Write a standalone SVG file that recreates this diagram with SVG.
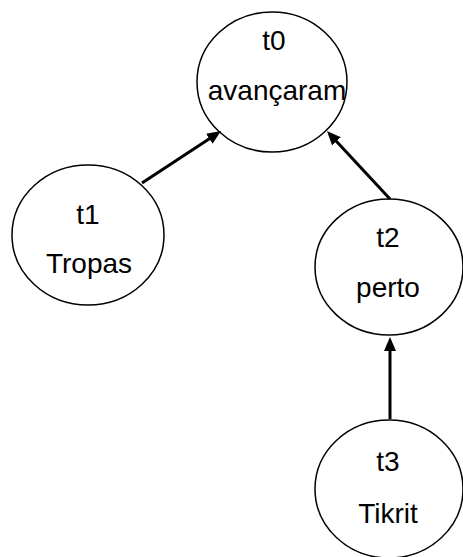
<svg xmlns="http://www.w3.org/2000/svg" width="463" height="557" viewBox="0 0 463 557">
<defs>
<style>
.node ellipse{fill:#fff;stroke:#000;stroke-width:1.5}
.node text{font-family:"Liberation Sans",Arial,sans-serif;font-size:28px;fill:#000;text-anchor:middle}
.edge{stroke:#000;stroke-width:3;fill:none;marker-end:url(#arr)}
</style>
<marker id="arr" viewBox="0 0 14 12" markerWidth="14" markerHeight="12" markerUnits="userSpaceOnUse" refX="6" refY="6" orient="auto">
<path d="M0,0 L14,6 L0,12 z" fill="#000"/>
</marker>
</defs>
<rect width="463" height="557" fill="#fff"/>
<g id="t0" class="node"><ellipse cx="272" cy="82" rx="75" ry="70"/><text x="274" y="50">t0</text><text x="277" y="100">avançaram</text></g>
<g id="t1" class="node"><ellipse cx="88" cy="235" rx="76" ry="70"/><text x="88" y="224">t1</text><text x="89" y="273">Tropas</text></g>
<g id="t2" class="node"><ellipse cx="389" cy="267" rx="74" ry="68"/><text x="388" y="247">t2</text><text x="388" y="297">perto</text></g>
<g id="t3" class="node"><ellipse cx="389" cy="489" rx="74" ry="69"/><text x="388" y="471">t3</text><text x="388" y="523">Tikrit</text></g>
<g id="connectors">
<line class="edge" x1="142" y1="183" x2="214.3" y2="135.4"/>
<line class="edge" x1="390" y1="199" x2="332.4" y2="136.9"/>
<line class="edge" x1="390" y1="419" x2="390" y2="345"/>
</g>
</svg>
